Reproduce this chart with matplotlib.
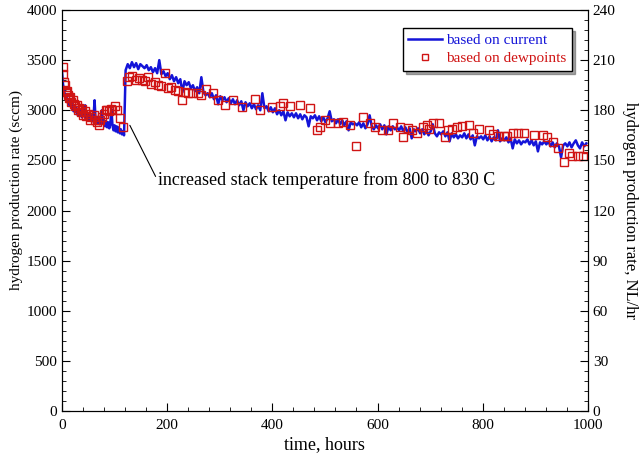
#!/usr/bin/env python3
"""Hydrogen production rate vs time: current-based line and dewpoint-based points."""
import matplotlib
matplotlib.use("Agg")
import matplotlib.pyplot as plt
import numpy as np

# current-based rate, first run (0-118 h, every 2 h), sccm
t_cur1 = np.arange(0, 120, 2)
h2_cur1 = [3390, 3260, 3200, 3130, 3160, 3080, 3110, 3050, 3090, 3020,
           3060, 2990, 3040, 2980, 3020, 2950, 3010, 2960, 2990, 2930,
           2980, 2940, 3050, 2920, 2970, 2910, 2960, 2900, 2950, 2890,
           2940, 3100, 2890, 2930, 2870, 2920, 2860, 2910, 3000, 2870,
           2900, 2840, 2890, 2830, 2880, 2820, 2870, 3010, 2850, 2800,
           2850, 2790, 2840, 2780, 2830, 2770, 2810, 2760, 2790, 2750]

# current-based rate after temperature increase (121-997 h, every 4 h), sccm
t_cur2 = np.arange(121, 1001, 4)
h2_cur2 = [3400, 3460, 3420, 3480, 3430, 3470, 3410, 3460, 3440, 3420,
           3450, 3400, 3430, 3380, 3420, 3370, 3500, 3360, 3390, 3340,
           3370, 3310, 3350, 3290, 3330, 3270, 3310, 3180, 3290, 3250,
           3280, 3220, 3250, 3190, 3230, 3170, 3330, 3180, 3150, 3170,
           3130, 3170, 3110, 3150, 3060, 3140, 3100, 3130, 3080, 3120,
           3070, 3110, 3060, 3100, 3050, 3090, 3000, 3080, 3040, 3070,
           3020, 3060, 3010, 3050, 3000, 3170, 3020, 3040, 2990, 3030,
           2980, 3020, 2960, 3000, 2950, 2990, 2900, 2980, 2940, 2970,
           2930, 2970, 2920, 2960, 2910, 2950, 2930, 2840, 2940, 2920,
           2950, 2900, 2940, 2890, 2930, 2880, 2920, 2990, 2890, 2910,
           2870, 2910, 2860, 2900, 2850, 2890, 2800, 2880, 2860, 2870,
           2850, 2880, 2830, 2870, 2820, 2860, 2950, 2840, 2810, 2850,
           2820, 2860, 2810, 2850, 2760, 2840, 2800, 2840, 2810, 2830,
           2800, 2840, 2790, 2830, 2780, 2820, 2720, 2810, 2790, 2820,
           2770, 2810, 2760, 2800, 2750, 2790, 2860, 2770, 2740, 2780,
           2760, 2790, 2740, 2780, 2690, 2770, 2730, 2760, 2720, 2750,
           2730, 2770, 2720, 2760, 2710, 2750, 2650, 2740, 2720, 2740,
           2710, 2750, 2700, 2740, 2690, 2730, 2700, 2800, 2690, 2720,
           2700, 2730, 2680, 2720, 2620, 2710, 2670, 2700, 2660, 2690,
           2680, 2710, 2660, 2700, 2650, 2690, 2590, 2680, 2660, 2690,
           2660, 2690, 2640, 2680, 2630, 2670, 2640, 2530, 2650, 2670,
           2640, 2680, 2630, 2670, 2700, 2650, 2620, 2680, 2640, 2670]

# dewpoint-based rate, sccm
t_dew = [1, 2, 4, 6, 8, 10, 12, 14, 16, 18, 20, 22, 25, 28, 30, 33, 36, 38,
         40, 43, 46, 50, 53, 56, 60, 63, 66, 70, 73, 76, 80, 83, 86, 90, 93,
         96, 100, 105, 110, 116,
         123, 128, 134, 140, 146, 152, 158, 164, 170, 176, 182, 188, 196,
         202, 208, 214, 220, 228, 234, 240, 247, 258, 265, 274, 287, 297,
         310, 325, 342, 367, 376, 399, 414, 420, 433, 452, 471, 485, 490,
         500, 509, 525, 534, 548, 559, 572, 586, 595, 608, 620, 629, 643,
         648, 658, 665, 675, 686, 694, 698, 705, 717, 728, 734, 741, 751,
         760, 774, 782, 793, 812, 819, 829, 840, 846, 857, 867, 878, 897,
         914, 922, 933, 943, 954, 964, 970, 981, 990, 998]
h2_dew = [3430, 3360, 3280, 3250, 3180, 3190, 3150, 3120, 3130, 3080, 3100,
          3060, 3040, 3050, 3000, 3020, 2980, 3010, 2950, 2990, 2940, 2960,
          2900, 2930, 2950, 2900, 2880, 2850, 2900, 2930, 2960, 3000, 3000,
          2990, 3010, 3000, 3040, 3000, 2920, 2830,
          3290, 3330, 3340, 3300, 3320, 3300, 3290, 3330, 3260, 3280, 3250,
          3240, 3370, 3220, 3230, 3200, 3190, 3100, 3180, 3170, 3170, 3170,
          3150, 3210, 3170, 3100, 3050, 3100, 3030, 3110, 3000, 3030, 3040,
          3070, 3040, 3050, 3020, 2800, 2830, 2900, 2870, 2870, 2880, 2850,
          2640, 2930, 2870, 2830, 2800, 2800, 2870, 2830, 2730, 2820, 2800,
          2770, 2830, 2850, 2810, 2870, 2870, 2730, 2800, 2810, 2830, 2840,
          2850, 2770, 2810, 2800, 2760, 2740, 2740, 2740, 2770, 2770, 2770,
          2750, 2750, 2730, 2680, 2620, 2480, 2570, 2540, 2540, 2540, 2610]

BLUE = "#1414d8"
RED = "#d01414"

plt.rcParams["font.family"] = ["Liberation Serif", "DejaVu Serif"]
plt.rcParams["font.size"] = 11

fig = plt.figure(figsize=(6.39, 4.58), dpi=100)
ax = fig.add_axes([0.097, 0.1026, 0.823, 0.8755])

t_cur = np.concatenate([t_cur1, t_cur2])
h2_cur = np.concatenate([h2_cur1, h2_cur2])
ax.plot(t_cur, h2_cur, color=BLUE, lw=1.8, label="based on current", zorder=2)
ax.plot(t_dew, h2_dew, ls="none", marker="s", ms=6, mfc="none", mec=RED,
        mew=1.0, label="based on dewpoints", zorder=3)

ax.set_xlim(0, 1000)
ax.set_ylim(0, 4000)
ax.set_xticks(np.arange(0, 1001, 200))
ax.set_xticks(np.arange(0, 1001, 40), minor=True)
ax.set_yticks(np.arange(0, 4001, 500))
ax.set_yticks(np.arange(0, 4001, 100), minor=True)
ax.tick_params(which="both", direction="in", top=False, right=False)
ax.tick_params(which="major", length=6)
ax.tick_params(which="minor", length=3)
ax.tick_params(axis="x", pad=6)
ax.set_xlabel("time, hours", fontsize=13, labelpad=3)
ax.set_ylabel("hydrogen production rate (sccm)", fontsize=11)
ax.yaxis.set_label_coords(-0.075, 0.55)

ax2 = ax.twinx()
ax2.set_ylim(0, 240)
ax2.set_yticks(np.arange(0, 241, 30))
ax2.set_yticks(np.arange(0, 241, 6), minor=True)
ax2.tick_params(which="both", direction="in")
ax2.tick_params(which="major", length=6)
ax2.tick_params(which="minor", length=3)
ax2.set_ylabel("hydrogen production rate, NL/hr", fontsize=12, rotation=270,
               labelpad=16)

ax.annotate("", xy=(129, 2850), xytext=(178, 2340),
            arrowprops=dict(arrowstyle="-", color="black", lw=0.8,
                            shrinkA=0, shrinkB=0))
ax.text(182, 2300, "increased stack temperature from 800 to 830 C",
        fontsize=13, va="center", ha="left")

leg = ax.legend(loc="upper right", bbox_to_anchor=(0.97, 0.955), fancybox=False,
                shadow=True, edgecolor="black", framealpha=1, fontsize=11,
                handlelength=2.2, borderpad=0.35, labelspacing=0.3,
                handletextpad=0.3, markerscale=0.7, borderaxespad=0)
leg.get_frame().set_linewidth(1.0)
for txt, col in zip(leg.get_texts(), [BLUE, RED]):
    txt.set_color(col)

fig.savefig("out.png", dpi=100)
